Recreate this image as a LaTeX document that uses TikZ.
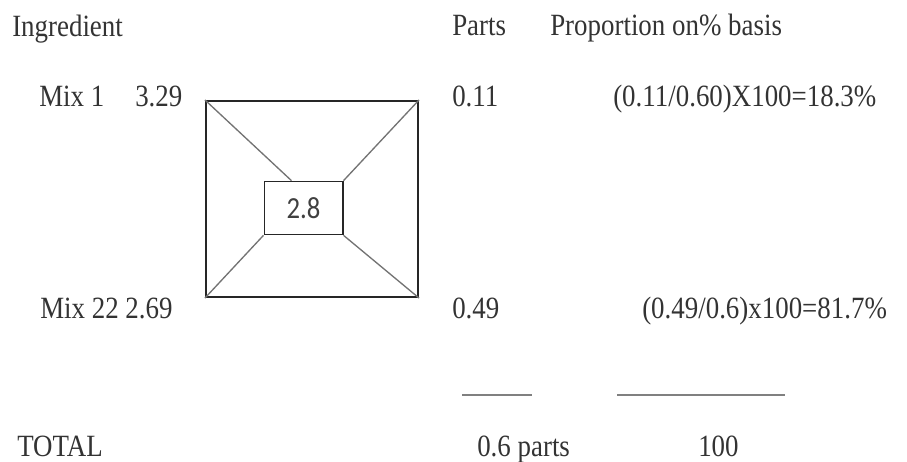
\documentclass[tikz,border=0pt]{standalone}
\usepackage{fontspec}
\setmainfont[FakeStretch=0.87]{Liberation Serif}
\newfontfamily\boxfont[FakeStretch=0.87]{Carlito}
\usetikzlibrary{positioning, calc}

\begin{document}
\begin{tikzpicture}[
    x=0.75pt, y=-0.75pt,
    lbl/.style={anchor=base west, inner sep=0pt, text=black!80,
                font=\fontsize{23.2}{27}\selectfont},
    squarebox/.style={draw=black!85, line width=1.6pt, minimum width=159pt,
                      minimum height=147pt, inner sep=0pt},
    midbox/.style={draw=black!85, line width=1pt, fill=white, minimum width=59pt,
                   minimum height=40pt, inner sep=0pt, text=black!75,
                   font=\boxfont\fontsize{23}{27}\selectfont},
    diag/.style={draw=black!55, line width=1pt},
    sumline/.style={draw=black!50, line width=1pt},
]
\useasboundingbox (0,0) rectangle (907,461);

% headings
\node[lbl] (ingr) at (12,36) {Ingredient};
\node[lbl] (parts) at (452,35) {Parts};
\node[lbl] (prop) at (550,35) {Proportion on\% basis};

% rows
\node[lbl] (mixa) at (39,106) {Mix 1};
\node[lbl] (vala) at (135,106) {3.29};
\node[lbl] (pa) at (452,106) {0.11};
\node[lbl] (calca) at (613,106) {(0.11/0.60)X100=18.3\%};

\node[lbl] (mixb) at (40,318) {Mix 22 2.69};
\node[lbl] (pb) at (452,318) {0.49};
\node[lbl] (calcb) at (642,318) {(0.49/0.6)x100=81.7\%};

% square
\node[squarebox] (sq) at (312,199) {};
\node[midbox] (mid) at (303.5,208) {2.8};
\draw[diag] (sq.north west) -- ($(mid.north west)!0.35!(mid.north east)$);
\draw[diag] (sq.north east) -- (mid.north east);
\draw[diag] (sq.south west) -- (mid.south west);
\draw[diag] (sq.south east) -- (mid.south east);

% sum lines
\draw[sumline] (462,395) -- (532,395);
\draw[sumline] (617,395) -- (785,395);

% totals
\node[lbl] (total) at (17,456) {TOTAL};
\node[lbl] (ptot) at (477,456) {0.6 parts};
\node[lbl] (hund) at (698,456) {100};

\end{tikzpicture}
\end{document}
